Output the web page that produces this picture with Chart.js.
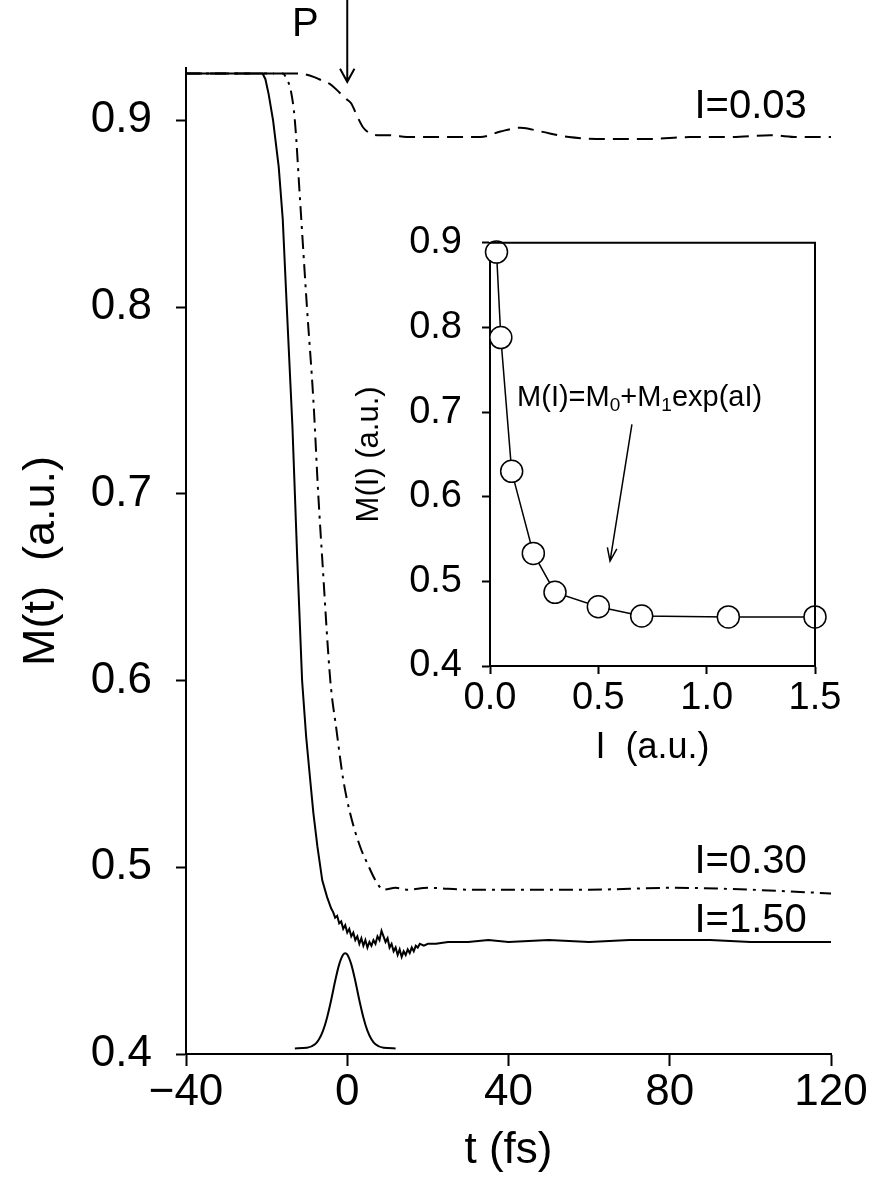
<!DOCTYPE html>
<html>
<head>
<meta charset="utf-8">
<script src="https://cdn.jsdelivr.net/npm/chart.js@4.4.1/dist/chart.umd.min.js"></script>
<style>
  body { margin: 0; background: #fff; }
  #wrap { position: relative; width: 885px; height: 1183px; }
  #mainChart { position: absolute; left: 0; top: 0; }
  #insetChart { position: absolute; left: 340px; top: 200px; }
</style>
</head>
<body>
<div id="wrap">
  <canvas id="mainChart" width="885" height="1183"></canvas>
  <canvas id="insetChart" width="520" height="580"></canvas>
</div>
<script>
// ---- main panel data: M(t) for three intensities + pulse envelope ----
const tTicks = [-40, 0, 40, 80, 120];
const mTicks = [0.4, 0.5, 0.6, 0.7, 0.8, 0.9];

// I = 0.03 (dashed)
const t003 = [-40, -12, -8, -6, -4, -2, 0, 1, 2.5, 4, 5.7, 8, 10, 16, 25, 33, 38, 43, 48, 55, 65, 75, 85, 95, 105, 112, 120];
const m003 = [0.925, 0.925, 0.923, 0.921, 0.919, 0.915, 0.911, 0.909, 0.902, 0.896, 0.893, 0.892, 0.892, 0.891, 0.891, 0.891, 0.894, 0.896, 0.894, 0.891, 0.890, 0.890, 0.891, 0.891, 0.892, 0.891, 0.891];

// I = 0.30 (dash-dot)
const t030 = [-40, -16, -15, -14, -13, -11.7, -10, -8.4, -7.2, -6.2, -4.2, -2.7, -1, 0.7, 3.2, 5, 7, 9, 12, 15, 20, 30, 40, 60, 80, 100, 110, 120];
const m030 = [0.925, 0.925, 0.922, 0.916, 0.900, 0.857, 0.800, 0.750, 0.700, 0.665, 0.600, 0.574, 0.547, 0.529, 0.511, 0.502, 0.493, 0.488, 0.489, 0.488, 0.489, 0.488, 0.488, 0.488, 0.489, 0.488, 0.487, 0.486];

// I = 1.50 (solid, noisy after the pulse)
const t150 = [-40, -21, -20.3, -19.5, -18.4, -17, -16, -15, -13.6, -12.4, -11.2, -10.2, -9.2, -8.4, -7.4, -6.2, -5,
  -4, -3.5, -3, -2.5, -2, -1.5, -1, -0.5, 0, 0.5, 1, 1.5, 2, 2.5, 3, 3.5, 4, 4.5, 5, 5.5, 6, 6.5, 7, 7.5, 8, 8.5, 9, 9.5,
  10, 10.5, 11, 11.5, 12, 12.5, 13, 13.5, 14, 14.5, 15, 15.5, 16, 16.5, 17, 17.5, 18, 19, 20,
  22, 25, 30, 35, 40, 50, 60, 70, 80, 90, 100, 110, 120];
const m150 = [0.925, 0.925, 0.922, 0.914, 0.900, 0.875, 0.847, 0.800, 0.736, 0.665, 0.600, 0.570, 0.547, 0.529, 0.511, 0.493, 0.484,
  0.478, 0.476, 0.473, 0.474, 0.470, 0.471, 0.467, 0.469, 0.465, 0.467, 0.463, 0.465, 0.461, 0.463, 0.459, 0.462, 0.458, 0.461, 0.457, 0.460, 0.458, 0.461, 0.459, 0.463, 0.461, 0.466, 0.463, 0.460,
  0.462, 0.457, 0.459, 0.455, 0.457, 0.453, 0.456, 0.452, 0.455, 0.453, 0.456, 0.454, 0.457, 0.455, 0.458, 0.457, 0.459, 0.458, 0.459,
  0.459, 0.460, 0.460, 0.461, 0.460, 0.461, 0.460, 0.461, 0.461, 0.461, 0.460, 0.460, 0.460];

// laser pulse envelope drawn at the bottom
const tPulse = [-13, -10, -8, -7, -6, -5, -4, -3, -2, -1, -0.5, 0, 1, 2, 3, 4, 5, 6, 7, 9, 12];
const mPulse = [0.403, 0.4033, 0.4052, 0.4079, 0.4125, 0.4196, 0.4288, 0.4391, 0.448, 0.4533, 0.454, 0.4533, 0.448, 0.4391, 0.4288, 0.4196, 0.4125, 0.4079, 0.4052, 0.4033, 0.403];

// ---- inset data: M(I) ----
const intensity = [0.03, 0.05, 0.1, 0.2, 0.3, 0.5, 0.7, 1.1, 1.5];
const mFinal = [0.889, 0.788, 0.630, 0.533, 0.487, 0.470, 0.459, 0.458, 0.458];
const iTicks = [0, 0.5, 1.0, 1.5];
const miTicks = [0.4, 0.5, 0.6, 0.7, 0.8, 0.9];

const FONT = "'Liberation Sans', Arial, Helvetica, sans-serif";
Chart.defaults.font.family = FONT;
Chart.defaults.color = "#000";

const pts = (xs, ys) => xs.map((x, i) => ({ x: x, y: ys[i] }));

// draws a line with an open V head at (x2, y2)
function arrow(ctx, x1, y1, x2, y2, head, spread) {
  const a = Math.atan2(y2 - y1, x2 - x1);
  ctx.beginPath();
  ctx.moveTo(x1, y1);
  ctx.lineTo(x2, y2);
  ctx.moveTo(x2 - head * Math.cos(a - spread), y2 - head * Math.sin(a - spread));
  ctx.lineTo(x2, y2);
  ctx.lineTo(x2 - head * Math.cos(a + spread), y2 - head * Math.sin(a + spread));
  ctx.stroke();
}

// text annotations, placed in data coordinates
const curveLabels = [
  { text: "I=0.03", t: 114, m: 0.907 },
  { text: "I=0.30", t: 114, m: 0.503 },
  { text: "I=1.50", t: 114, m: 0.471 },
];

const mainNotes = {
  id: "mainNotes",
  afterDraw(chart) {
    const ctx = chart.ctx;
    const xs = chart.scales.x, ys = chart.scales.y;
    ctx.save();
    ctx.fillStyle = "#000";
    ctx.strokeStyle = "#000";
    ctx.font = "40px " + FONT;
    ctx.textAlign = "right";
    ctx.textBaseline = "middle";
    curveLabels.forEach((l) => {
      ctx.fillText(l.text, xs.getPixelForValue(l.t), ys.getPixelForValue(l.m));
    });
    // pulse marker "P" and its arrow
    ctx.textAlign = "center";
    ctx.fillText("P", xs.getPixelForValue(-10.4), ys.getPixelForValue(0.951));
    ctx.lineWidth = 2;
    const ax = xs.getPixelForValue(0);
    arrow(ctx, ax, ys.getPixelForValue(0.9645), ax, ys.getPixelForValue(0.9206), 15, 0.5);
    ctx.restore();
  },
};

const lineStyle = { borderColor: "#000", borderWidth: 2, pointRadius: 0, fill: false, tension: 0 };

const mainChart = new Chart(document.getElementById("mainChart"), {
  type: "line",
  data: {
    datasets: [
      { data: pts(t003, m003), borderDash: [16, 8], cubicInterpolationMode: "monotone" },
      { data: pts(t030, m030), borderDash: [14, 6, 3, 6], cubicInterpolationMode: "monotone" },
      { data: pts(t150, m150) },
      { data: pts(tPulse, mPulse), cubicInterpolationMode: "monotone" },
    ].map((d) => Object.assign({}, lineStyle, d)),
  },
  options: {
    responsive: false,
    animation: false,
    layout: { padding: { top: 68, right: 54, left: 0, bottom: 0 } },
    plugins: { legend: { display: false }, tooltip: { enabled: false } },
    scales: {
      x: {
        type: "linear",
        min: -40,
        max: 120,
        afterBuildTicks: (s) => { s.ticks = tTicks.map((v) => ({ value: v })); },
        afterFit: (s) => { s.height = 129; },
        border: { color: "#000", width: 2 },
        grid: { drawOnChartArea: false, tickLength: 12, tickColor: "#000", tickWidth: 2 },
        ticks: {
          font: { size: 44 },
          color: "#000",
          padding: 0,
          maxRotation: 0,
          callback: (v) => (v < 0 ? "\u2212" + Math.abs(v) : String(v)),
        },
        title: { display: true, text: "t (fs)", font: { size: 44 }, color: "#000", padding: { top: 0, bottom: 6 } },
      },
      y: {
        type: "linear",
        min: 0.4,
        max: 0.928,
        afterBuildTicks: (s) => { s.ticks = mTicks.map((v) => ({ value: v })); },
        afterFit: (s) => { s.width = 186; },
        border: { color: "#000", width: 2 },
        grid: { drawOnChartArea: false, tickLength: 10, tickColor: "#000", tickWidth: 2 },
        ticks: { font: { size: 44 }, color: "#000", padding: 24, callback: (v) => v.toFixed(1) },
        title: { display: true, text: "M(t)  (a.u.)", font: { size: 45 }, color: "#000", padding: { top: 15, bottom: 0 } },
      },
    },
  },
  plugins: [mainNotes],
});

// inset: box closing lines, fit formula and its arrow
const insetNotes = {
  id: "insetNotes",
  afterDraw(chart) {
    const ctx = chart.ctx;
    const a = chart.chartArea;
    const xs = chart.scales.x, ys = chart.scales.y;
    ctx.save();
    ctx.strokeStyle = "#000";
    ctx.lineWidth = 2;
    ctx.beginPath();
    ctx.moveTo(a.left, a.top);
    ctx.lineTo(a.right, a.top);
    ctx.lineTo(a.right, a.bottom);
    ctx.stroke();

    // M(I)=M0+M1exp(aI) with subscripts
    ctx.fillStyle = "#000";
    ctx.textAlign = "left";
    ctx.textBaseline = "middle";
    let x = xs.getPixelForValue(0.125);
    const y = ys.getPixelForValue(0.717);
    const parts = [
      ["M(I)=M", false], ["0", true], ["+M", false], ["1", true], ["exp(aI)", false],
    ];
    parts.forEach(([txt, sub]) => {
      ctx.font = (sub ? "19px " : "29px ") + FONT;
      ctx.fillText(txt, x, sub ? y + 8 : y);
      x += ctx.measureText(txt).width;
    });

    ctx.lineWidth = 1.5;
    arrow(ctx, xs.getPixelForValue(0.655), ys.getPixelForValue(0.6855),
      xs.getPixelForValue(0.554), ys.getPixelForValue(0.524), 14, 0.35);
    ctx.restore();
  },
};

const insetChart = new Chart(document.getElementById("insetChart"), {
  type: "line",
  data: {
    datasets: [
      {
        data: pts(intensity, mFinal),
        borderColor: "#000",
        borderWidth: 1.5,
        pointRadius: 11,
        pointBackgroundColor: "#fff",
        pointBorderColor: "#000",
        pointBorderWidth: 1.5,
        tension: 0,
        clip: false,
      },
    ],
  },
  options: {
    responsive: false,
    animation: false,
    layout: { padding: { top: 23, right: 45, left: 0, bottom: 0 } },
    plugins: { legend: { display: false }, tooltip: { enabled: false } },
    scales: {
      x: {
        type: "linear",
        min: 0,
        max: 1.5,
        afterBuildTicks: (s) => { s.ticks = iTicks.map((v) => ({ value: v })); },
        afterFit: (s) => { s.height = 114; },
        border: { color: "#000", width: 2 },
        grid: { drawOnChartArea: false, tickLength: 8, tickColor: "#000", tickWidth: 2 },
        ticks: { font: { size: 38 }, color: "#000", padding: 2, maxRotation: 0, callback: (v) => v.toFixed(1) },
        title: { display: true, text: "I  (a.u.)", font: { size: 36 }, color: "#000", padding: { top: 0, bottom: 10 } },
      },
      y: {
        type: "linear",
        min: 0.4,
        max: 0.9,
        afterBuildTicks: (s) => { s.ticks = miTicks.map((v) => ({ value: v })); },
        afterFit: (s) => { s.width = 150; },
        border: { color: "#000", width: 2 },
        grid: { drawOnChartArea: false, tickLength: 8, tickColor: "#000", tickWidth: 2 },
        ticks: { font: { size: 38 }, color: "#000", padding: 20, callback: (v) => v.toFixed(1) },
        title: { display: true, text: "M(I) (a.u.)", font: { size: 31 }, color: "#000", padding: { top: 11, bottom: 0 } },
      },
    },
  },
  plugins: [insetNotes],
});
</script>
</body>
</html>
